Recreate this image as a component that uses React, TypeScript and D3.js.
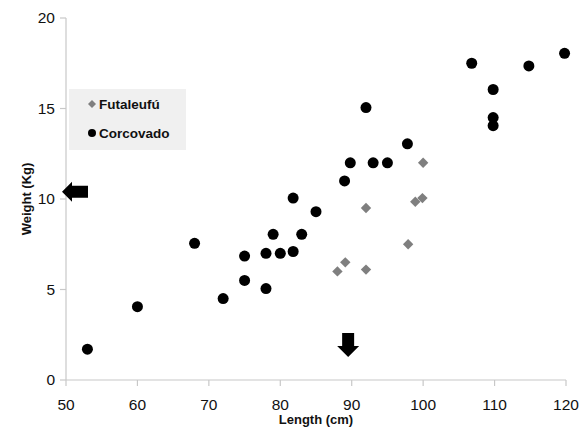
import React from "react";
import * as d3 from "d3";

const corcovadoLength = [53, 60, 68, 72, 75, 75, 78, 78, 79, 80, 81.8, 81.8, 83, 85, 89, 89.8, 92, 93, 95, 97.8, 106.8, 109.8, 109.8, 109.8, 114.8, 119.8];
const corcovadoWeight = [1.7, 4.05, 7.55, 4.5, 6.85, 5.5, 7.0, 5.05, 8.05, 7.0, 7.1, 10.05, 8.05, 9.3, 11.0, 12.0, 15.05, 12.0, 12.0, 13.05, 17.5, 16.05, 14.5, 14.05, 17.35, 18.05];
const futaLength = [88, 89.1, 92, 92, 97.9, 98.9, 99.9, 100];
const futaWeight = [6.0, 6.5, 9.5, 6.1, 7.5, 9.85, 10.05, 12.0];
const xTicks = [50, 60, 70, 80, 90, 100, 110, 120];
const yTicks = [0, 5, 10, 15, 20];
const seriesNames = ["Futaleufú", "Corcovado"];

export default function App() {
  const W = 586, H = 436;
  const x = d3.scaleLinear().domain([50, 120]).range([66, 566]);
  const y = d3.scaleLinear().domain([0, 20]).range([380, 18]);
  const axisColor = "#c8c8c8";
  const font = "'Liberation Sans', Arial, sans-serif";
  const diamond = (cx: number, cy: number, r: number) =>
    `M${cx},${cy - r}L${cx + r},${cy}L${cx},${cy + r}L${cx - r},${cy}Z`;

  return (
    <svg width={W} height={H} style={{ position: "absolute", left: 0, top: 0, background: "#fff" }} fontFamily={font}>
      {/* axes */}
      <line x1={x(50)} x2={x(50)} y1={y(20)} y2={y(0)} stroke={axisColor} strokeWidth={1.2} />
      <line x1={x(50)} x2={x(120)} y1={y(0)} y2={y(0)} stroke={axisColor} strokeWidth={1.2} />
      {yTicks.map((t) => (
        <g key={"y" + t}>
          <line x1={x(50) - 6} x2={x(50)} y1={y(t)} y2={y(t)} stroke={axisColor} strokeWidth={1.2} />
          <text x={x(50) - 11} y={y(t)} dy="0.35em" textAnchor="end" fontSize={15.5} fill="#111">{t}</text>
        </g>
      ))}
      {xTicks.map((t) => (
        <g key={"x" + t}>
          <line x1={x(t)} x2={x(t)} y1={y(0)} y2={y(0) + 6} stroke={axisColor} strokeWidth={1.2} />
          <text x={x(t)} y={y(0) + 30} textAnchor="middle" fontSize={15.5} fill="#111">{t}</text>
        </g>
      ))}
      <text x={(x(50) + x(120)) / 2} y={424} textAnchor="middle" fontSize={13} fontWeight="bold" fill="#111">Length (cm)</text>
      <text transform={`translate(31,${(y(0) + y(20)) / 2}) rotate(-90)`} textAnchor="middle" fontSize={13} fontWeight="bold" fill="#111">Weight (Kg)</text>

      {/* legend */}
      <rect x={69} y={89} width={117} height={61} fill="#f0f0f0" />
      <path d={diamond(92, 104, 4)} fill="#7f7f7f" />
      <text x={99} y={104} dy="0.35em" fontSize={13.5} fontWeight="bold" fill="#111">{seriesNames[0]}</text>
      <circle cx={92} cy={133} r={4} fill="#000" />
      <text x={99} y={133} dy="0.35em" fontSize={13.5} fontWeight="bold" fill="#111">{seriesNames[1]}</text>

      {/* data */}
      {corcovadoLength.map((l, i) => (
        <circle key={"c" + i} cx={x(l)} cy={y(corcovadoWeight[i])} r={5.5} fill="#000" />
      ))}
      {futaLength.map((l, i) => (
        <path key={"f" + i} d={diamond(x(l), y(futaWeight[i]), 5.2)} fill="#7f7f7f" />
      ))}

      {/* arrows */}
      <path d={`M62,${y(10.4)}L72,${y(10.4) - 10}L72,${y(10.4) - 6}L88,${y(10.4) - 6}L88,${y(10.4) + 6}L72,${y(10.4) + 6}L72,${y(10.4) + 10}Z`} fill="#000" />
      <path d={`M${x(89.5) - 6},333L${x(89.5) + 6},333L${x(89.5) + 6},346L${x(89.5) + 11},346L${x(89.5)},357L${x(89.5) - 11},346L${x(89.5) - 6},346Z`} fill="#000" />
    </svg>
  );
}
